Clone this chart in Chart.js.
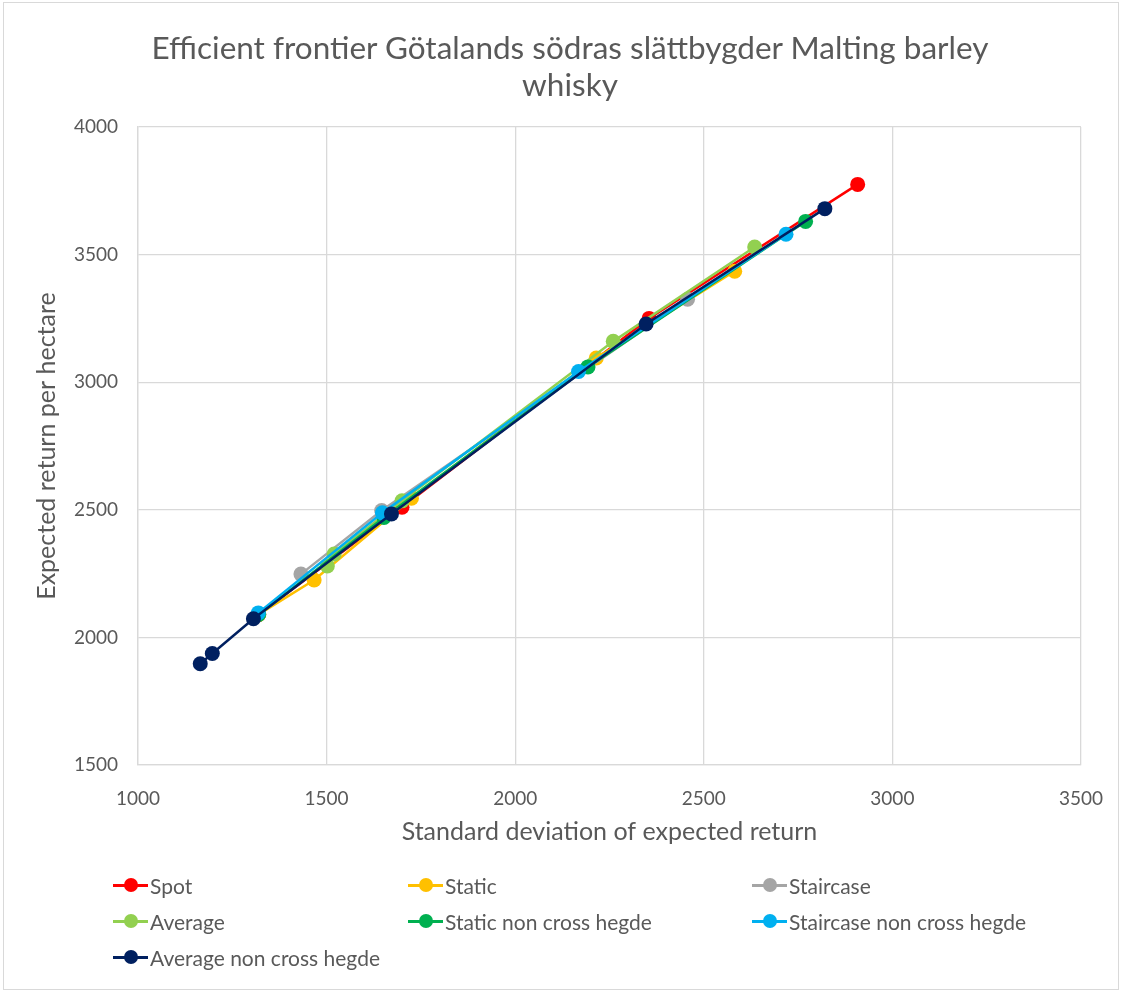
<!DOCTYPE html>
<html>
<head>
<meta charset="utf-8">
<script src="https://cdn.jsdelivr.net/npm/chart.js@4/dist/chart.umd.min.js"></script>
<style>
  html, body { margin: 0; padding: 0; background: #fff; }
  #wrap { position: relative; width: 1125px; height: 992px; }
  #frame { position: absolute; left: 3px; top: 2px; width: 1116px; height: 988px; border: 1px solid #d9d9d9; box-sizing: border-box; pointer-events: none; }
  canvas { position: absolute; left: 0; top: 0; }
  #title { position: absolute; left: 70px; width: 1000px; top: 29px; text-align: center; font-family: Lato, "Open Sans", sans-serif; font-size: 31.5px; line-height: 37px; color: #595959; }
  #legend { position: absolute; left: 0; top: 0; width: 1125px; height: 992px; pointer-events: none; font-family: Lato, "Open Sans", sans-serif; font-size: 21px; color: #595959; }
  .item { position: absolute; height: 24px; display: flex; align-items: center; white-space: nowrap; }
  .mk { position: relative; width: 35px; height: 24px; margin-right: 2px; }
  .mk .ln { position: absolute; left: 0; top: 10.5px; width: 35px; height: 3px; }
  .mk .dt { position: absolute; left: 10.5px; top: 5px; width: 14px; height: 14px; border-radius: 50%; }
</style>
</head>
<body>
<div id="wrap">
  <canvas id="c" width="1125" height="992"></canvas>
  <div id="title"></div>
  <div id="legend"></div>
  <div id="frame"></div>
</div>
<script>
const titleLines = ["Efficient frontier Götalands södras slättbygder Malting barley", "whisky"];
const xAxisTitle = "Standard deviation of expected return";
const yAxisTitle = "Expected return per hectare";
const xTicks = [1000, 1500, 2000, 2500, 3000, 3500];
const yTicks = [1500, 2000, 2500, 3000, 3500, 4000];

const seriesNames = ["Spot", "Static", "Staircase", "Average", "Static non cross hegde", "Staircase non cross hegde", "Average non cross hegde"];
const seriesColors = ["#ff0000", "#ffc000", "#a5a5a5", "#92d050", "#00b050", "#00b0f0", "#002060"];

// [standard deviation, expected return]
const spot = [[1320, 2090], [1700, 2510], [2355, 3250], [2908, 3775]];
const staticS = [[1320, 2090], [1467, 2225], [1725, 2545], [2215, 3095], [2582, 3435]];
const staircase = [[1432, 2248], [1646, 2497], [2457, 3325]];
const average = [[1502, 2280], [1520, 2327], [1700, 2535], [2260, 3160], [2635, 3530]];
const staticNonCross = [[1320, 2090], [1652, 2470], [2193, 3060], [2770, 3630]];
const staircaseNonCross = [[1319, 2096], [1648, 2488], [2168, 3042], [2718, 3580]];
const averageNonCross = [[1165, 1897], [1197, 1937], [1306, 2073], [1672, 2484], [2347, 3228], [2821, 3680]];

const seriesData = [spot, staticS, staircase, average, staticNonCross, staircaseNonCross, averageNonCross];

const textColor = "#595959";
const gridColor = "#d9d9d9";
const fontFamily = "Lato, 'Open Sans', sans-serif";

const datasets = seriesNames.map((name, i) => ({
  label: name,
  data: seriesData[i].map(p => ({ x: p[0], y: p[1] })),
  borderColor: seriesColors[i],
  backgroundColor: seriesColors[i],
  borderWidth: 2.5,
  pointRadius: 7.5,
  pointHoverRadius: 7.5,
  pointBorderWidth: 0,
  showLine: true,
  tension: 0,
  order: seriesNames.length - i
}));

document.getElementById('title').innerHTML = titleLines.map(t => '<div>' + t + '</div>').join('');

new Chart(document.getElementById('c'), {
  type: 'scatter',
  data: { datasets },
  options: {
    responsive: false,
    animation: false,
    devicePixelRatio: 1,
    layout: { padding: { left: 0, right: 40, top: 127, bottom: 127 } },
    plugins: {
      legend: { display: false },
      tooltip: { enabled: false },
      title: { display: false }
    },
    scales: {
      x: {
        type: 'linear',
        min: 1000, max: 3500,
        afterBuildTicks: (axis) => { axis.ticks = xTicks.map(v => ({ value: v })); },
        afterFit: (axis) => { axis.height = 100; },
        grid: { color: gridColor, lineWidth: 1.3, drawTicks: false },
        border: { color: gridColor, width: 1.3 },
        ticks: { color: textColor, font: { family: fontFamily, size: 19 }, padding: 22, callback: (v) => String(v) },
        title: { display: true, text: xAxisTitle, color: textColor, font: { family: fontFamily, size: 25 }, padding: { top: 0, bottom: 18 } }
      },
      y: {
        type: 'linear',
        min: 1500, max: 4000,
        afterBuildTicks: (axis) => { axis.ticks = yTicks.map(v => ({ value: v })); },
        afterFit: (axis) => { axis.width = 138; },
        grid: { color: gridColor, lineWidth: 1.3, drawTicks: false },
        border: { color: gridColor, width: 1.3 },
        ticks: { color: textColor, font: { family: fontFamily, size: 19 }, padding: 20, callback: (v) => String(v) },
        title: { display: true, text: yAxisTitle, color: textColor, font: { family: fontFamily, size: 25 }, padding: { top: 32, bottom: 0 } }
      }
    }
  }
});

// HTML legend built from the datasets
const legendCols = [113, 408, 752];
const legendRows = [885, 921, 957];
const legendEl = document.getElementById('legend');
datasets.forEach((ds, i) => {
  const col = i % 3, row = Math.floor(i / 3);
  const item = document.createElement('div');
  item.className = 'item';
  item.style.left = legendCols[col] + 'px';
  item.style.top = (legendRows[row] - 12) + 'px';
  const mk = document.createElement('div');
  mk.className = 'mk';
  const ln = document.createElement('div'); ln.className = 'ln'; ln.style.background = ds.borderColor;
  const dt = document.createElement('div'); dt.className = 'dt'; dt.style.background = ds.borderColor;
  mk.appendChild(ln); mk.appendChild(dt);
  const tx = document.createElement('span'); tx.textContent = ds.label;
  item.appendChild(mk); item.appendChild(tx);
  legendEl.appendChild(item);
});
</script>
</body>
</html>
